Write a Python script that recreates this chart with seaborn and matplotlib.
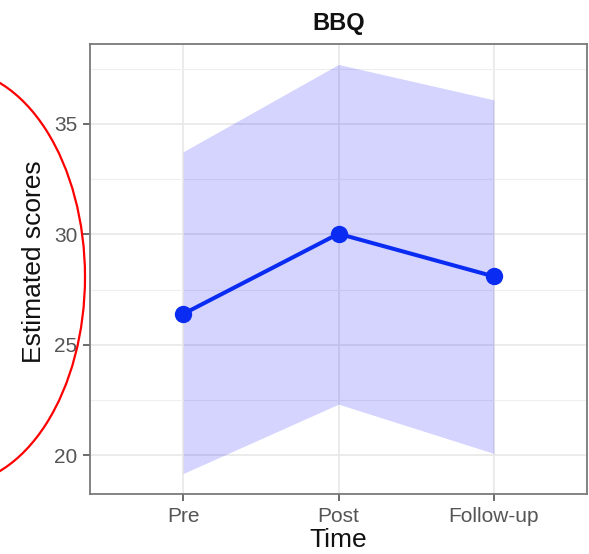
import numpy as np
import pandas as pd
import matplotlib
matplotlib.use("Agg")
import matplotlib.pyplot as plt
from matplotlib.patches import Ellipse
from matplotlib.ticker import MultipleLocator, FixedLocator
import seaborn as sns

# ---- data ----
times = ["Pre", "Post", "Follow-up"]
estimates = [26.40, 30.03, 28.10]
lower = [19.18, 22.32, 20.09]
upper = [33.74, 37.69, 36.09]
y_ticks = [20, 25, 30, 35]
title = "BBQ"
xlabel = "Time"
ylabel = "Estimated scores"

sns.set_theme(style="white")
plt.rcParams['font.family'] = ['Liberation Sans', 'DejaVu Sans']

W, H, DPI = 589, 554, 100
fig = plt.figure(figsize=(W / DPI, H / DPI), dpi=DPI)
ax = fig.add_axes([90 / W, 1 - 494 / H, (587 - 90) / W, (494 - 44) / H])

pos = np.arange(len(times))
df = pd.DataFrame({"pos": pos, "time": times, "est": estimates,
                   "lo": lower, "hi": upper})

# grid
ax.set_axisbelow(True)
ax.yaxis.set_major_locator(FixedLocator(y_ticks))
ax.yaxis.set_minor_locator(MultipleLocator(2.5))
ax.grid(which="major", color="#E6E6E6", linewidth=1.1)
ax.grid(which="minor", axis="y", color="#EFEFEF", linewidth=0.8)

# ribbon
ax.fill_between(df["pos"], df["lo"], df["hi"], color="blue", alpha=0.17,
                linewidth=0, zorder=2)

# line + points
sns.lineplot(data=df, x="pos", y="est", color="#0A2BF2", linewidth=2.9,
             marker="o", markersize=12.5, markeredgewidth=0, ax=ax, zorder=3)

# limits with ggplot-like expansion
lo_all, hi_all = min(lower), max(upper)
rng = hi_all - lo_all
ax.set_ylim(lo_all - 0.05 * rng, hi_all + 0.05 * rng)
ax.set_xlim(-0.6, len(times) - 1 + 0.6)
ax.set_xticks(pos)
ax.set_xticklabels(times)
ax.set_yticks(y_ticks)
ax.set_yticklabels([str(t) for t in y_ticks])

ax.tick_params(axis="both", which="major", length=5, width=1.1,
               color="#444444", labelcolor="#555555", labelsize=15, pad=4,
               left=True, bottom=True)
ax.tick_params(axis="y", which="minor", length=0)

for s in ax.spines.values():
    s.set_color("#7A7A7A")
    s.set_linewidth(1.3)

ax.set_xlabel(xlabel, fontsize=19, color="#111111", labelpad=2)
ax.set_ylabel(ylabel, fontsize=19, color="#111111")
ax.yaxis.set_label_coords((46 - 90) / 497, (494 - 262) / 450)
ax.set_title(title, fontsize=17, fontweight="bold", color="#111111", pad=10)

# red circle annotation
ell = Ellipse((-48 / W, 1 - 277 / H), 266 / W, 416 / H,
              transform=fig.transFigure, fill=False, edgecolor="red",
              linewidth=1.6)
fig.patches.append(ell)

fig.savefig("out.png", dpi=DPI)
